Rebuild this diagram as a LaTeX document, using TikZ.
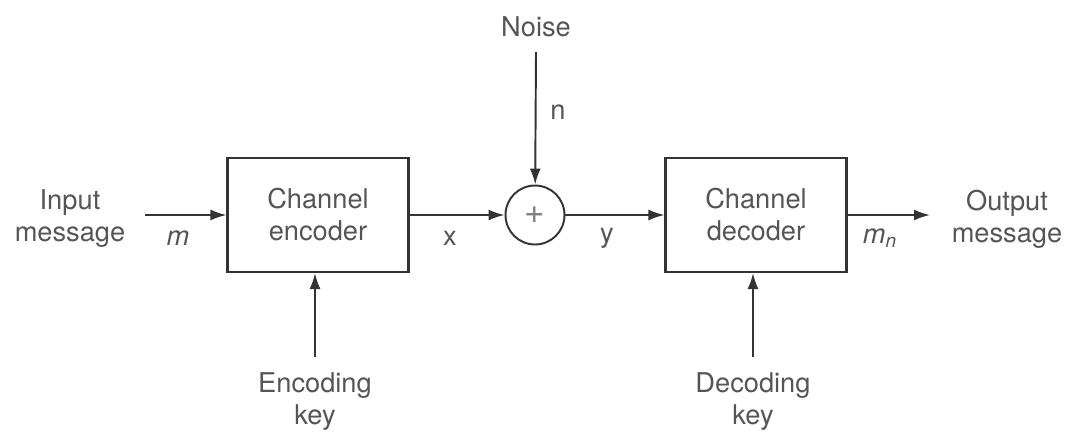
\documentclass[tikz,border=0pt]{standalone}
\usepackage{fontspec}
\setmainfont{TeX Gyre Heros}
\usetikzlibrary{arrows.meta,positioning}
\definecolor{inkgray}{HTML}{333333}
\definecolor{txtgray}{HTML}{555555}
\tikzset{
  txt/.style={text=txtgray, align=center, font=\fontsize{15.5}{18.2}\selectfont},
  blk/.style={txt, draw=inkgray, line width=1.2pt, minimum width=3.62cm, minimum height=2.28cm},
  sumnode/.style={txt, circle, draw=inkgray, line width=1.1pt, minimum size=1.18cm, inner sep=0pt},
  sig/.style={draw=inkgray, line width=1.1pt, -{Latex[length=0.32cm,width=0.22cm]}}
}

\begin{document}
\begin{tikzpicture}[x=0.02cm, y=-0.02cm]
\useasboundingbox (0,0) rectangle (1068,437);
% blocks
\node[blk] (enc) at (318,215) {Channel\\encoder};
\node[sumnode] (sum) at (535,215) {\fontsize{20}{20}\selectfont\color{gray}+};
\node[blk] (dec) at (756,215) {Channel\\decoder};
% outer texts
\node[txt] (inmsg) at (70,219) {Input\\message};
\node[txt] (outmsg) at (1007,219) {Output\\message};
\node[txt] (noise) at (536,27) {Noise};
\node[txt] (enckey) at (315,402) {Encoding\\key};
\node[txt] (deckey) at (753,402) {Decoding\\key};
% free ends
\coordinate (inA) at (145,215);
\coordinate (outB) at (930,215);
\coordinate (nzA) at (536,52);
\coordinate (ekA) at (315,357);
\coordinate (dkA) at (753,357);
% signals
\draw[sig] (inA) -- (enc);
\draw[sig] (enc) -- (sum);
\draw[sig] (sum) -- (dec);
\draw[sig] (dec) -- (outB);
\draw[sig] (nzA) -- (sum);
\draw[sig] (ekA) -- (enc.south -| ekA);
\draw[sig] (dkA) -- (dec.south -| dkA);
% signal labels
\node[txt] (lm) at (178,238) {\textit{m}};
\node[txt] (lx) at (450,238) {x};
\node[txt] (ly) at (607,238) {y};
\node[txt] (lmn) at (880,238) {\textit{m}\textsubscript{\textit{n}}};
\node[txt] (ln) at (558,112) {n};
\end{tikzpicture}
\end{document}
